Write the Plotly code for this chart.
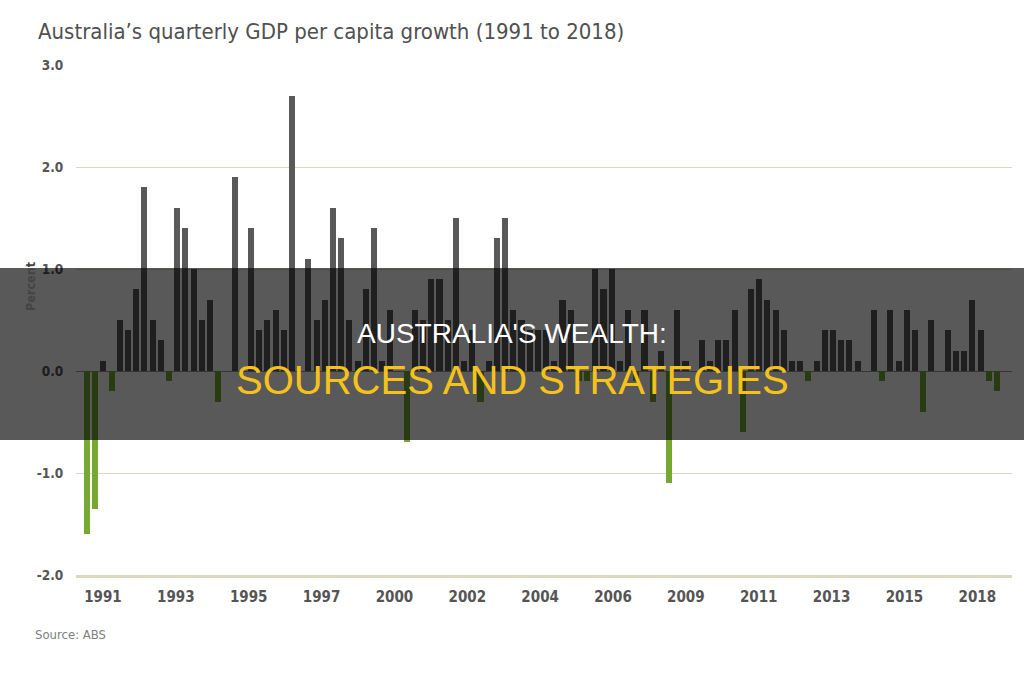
import plotly.graph_objects as go

# ---------------- data ----------------
years = list(range(1991, 2019))
quarters = [f"{y} Q{q}" for y in years for q in (1, 2, 3, 4)]

growth = [
    -1.6, -1.35, 0.1, -0.2,
    0.5, 0.4, 0.8, 1.8,
    0.5, 0.3, -0.1, 1.6,
    1.4, 1.0, 0.5, 0.7,
    -0.3, 0.0, 1.9, 0.0,
    1.4, 0.4, 0.5, 0.6,
    0.4, 2.7, 0.0, 1.1,
    0.5, 0.7, 1.6, 1.3,
    0.5, 0.1, 0.8, 1.4,
    0.1, 0.6, 0.0, -0.7,
    0.6, 0.5, 0.9, 0.9,
    0.5, 1.5, 0.1, 0.4,
    -0.3, 0.1, 1.3, 1.5,
    0.6, 0.5, 0.4, 0.4,
    0.4, 0.1, 0.7, 0.6,
    -0.1, -0.1, 1.0, 0.8,
    1.0, 0.1, 0.6, -0.1,
    0.6, -0.3, 0.2, -1.1,
    0.6, 0.1, 0.0, 0.3,
    0.1, 0.3, 0.3, 0.6,
    -0.6, 0.8, 0.9, 0.7,
    0.6, 0.4, 0.1, 0.1,
    -0.1, 0.1, 0.4, 0.4,
    0.3, 0.3, 0.1, 0.0,
    0.6, -0.1, 0.6, 0.1,
    0.6, 0.4, -0.4, 0.5,
    0.0, 0.4, 0.2, 0.2,
    0.7, 0.4, -0.1, -0.2,
]

tick_labels = ["1991", "1993", "1995", "1997", "2000", "2002", "2004",
               "2006", "2009", "2011", "2013", "2015", "2018"]
y_ticks = [-2, -1, 0, 1, 2, 3]

# ---------------- styling ----------------
W, H = 1024, 675
ML, MR, MT, MB = 76, 12, 65, 100
PW, PH = W - ML - MR, H - MT - MB

POS_COLOR = "#595959"
NEG_COLOR = "#77a932"
GRID = "#d9d9bd"
NARROW = "'Liberation Sans Narrow', 'DejaVu Sans Condensed', 'Roboto Condensed', 'Arial Narrow', Roboto, sans-serif"
SANS = "'Liberation Sans', Arial, Helvetica, sans-serif"

x_idx = list(range(len(growth)))
colors = [POS_COLOR if v >= 0 else NEG_COLOR for v in growth]

tick_first, tick_step = 1.95, 8.8875
tick_pos = [tick_first + tick_step * k for k in range(len(tick_labels))]


def px_x(px):
    return (px - ML) / PW


def px_y(py):
    return (H - MB - py) / PH


fig = go.Figure()
fig.add_trace(go.Bar(
    x=x_idx, y=growth, customdata=quarters,
    marker=dict(color=colors, line=dict(width=0)),
    width=0.74,
    hovertemplate="%{customdata}: %{y}%<extra></extra>",
))

fig.update_layout(
    width=W, height=H, autosize=False,
    margin=dict(l=ML, r=MR, t=MT, b=MB, pad=0),
    paper_bgcolor="white", plot_bgcolor="white",
    showlegend=False,
    bargap=0,
    title=dict(
        text="Australia\u2019s quarterly GDP per capita growth (1991 to 2018)",
        x=38 / W, xanchor="left", xref="container",
        y=1 - 31 / H, yanchor="middle", yref="container",
        font=dict(family=NARROW, size=22, color="#505050"),
    ),
    xaxis=dict(
        range=[-1.34, 112.83],
        tickmode="array", tickvals=tick_pos, ticktext=tick_labels,
        ticks="outside", ticklen=6, tickcolor="rgba(0,0,0,0)",
        tickfont=dict(family=NARROW, size=15, color="#555555", weight="bold"),
        showgrid=False, zeroline=False,
        showline=True, linecolor=GRID, linewidth=2.5,
        fixedrange=True,
    ),
    yaxis=dict(
        range=[-2, 3],
        tickmode="array", tickvals=y_ticks,
        ticktext=[f"{v:.1f}" for v in y_ticks],
        ticks="outside", ticklen=9, tickcolor="rgba(0,0,0,0)",
        tickfont=dict(family=NARROW, size=13.5, color="#555555", weight="bold"),
        showgrid=True, gridcolor=GRID, gridwidth=1.4,
        zeroline=True, zerolinecolor="#9a9a9a", zerolinewidth=1,
        fixedrange=True,
    ),
)

fig.add_annotation(
    text="Percent", textangle=-90,
    xref="paper", yref="paper", x=px_x(30), y=px_y(286),
    xanchor="center", yanchor="middle", showarrow=False,
    font=dict(family=NARROW, size=12.5, color="#444444", weight="bold"),
)
fig.add_annotation(
    text="Source: ABS",
    xref="paper", yref="paper", x=px_x(33), y=px_y(634),
    xanchor="left", yanchor="middle", showarrow=False,
    font=dict(family=NARROW, size=13, color="#808080"),
)

# dark translucent banner
fig.add_shape(
    type="rect", xref="paper", yref="paper",
    x0=px_x(0), x1=px_x(W), y0=px_y(440), y1=px_y(268),
    fillcolor="rgba(0,0,0,0.65)", line=dict(width=0), layer="above",
)
fig.add_annotation(
    text="AUSTRALIA'S WEALTH:",
    xref="paper", yref="paper", x=px_x(512), y=px_y(333),
    xanchor="center", yanchor="middle", showarrow=False,
    font=dict(family=SANS, size=28, color="white"),
)
fig.add_annotation(
    text="SOURCES AND STRATEGIES",
    xref="paper", yref="paper", x=px_x(512), y=px_y(380),
    xanchor="center", yanchor="middle", showarrow=False,
    font=dict(family=SANS, size=40, color="#f5c21c"),
)

fig.write_html("out.html")
